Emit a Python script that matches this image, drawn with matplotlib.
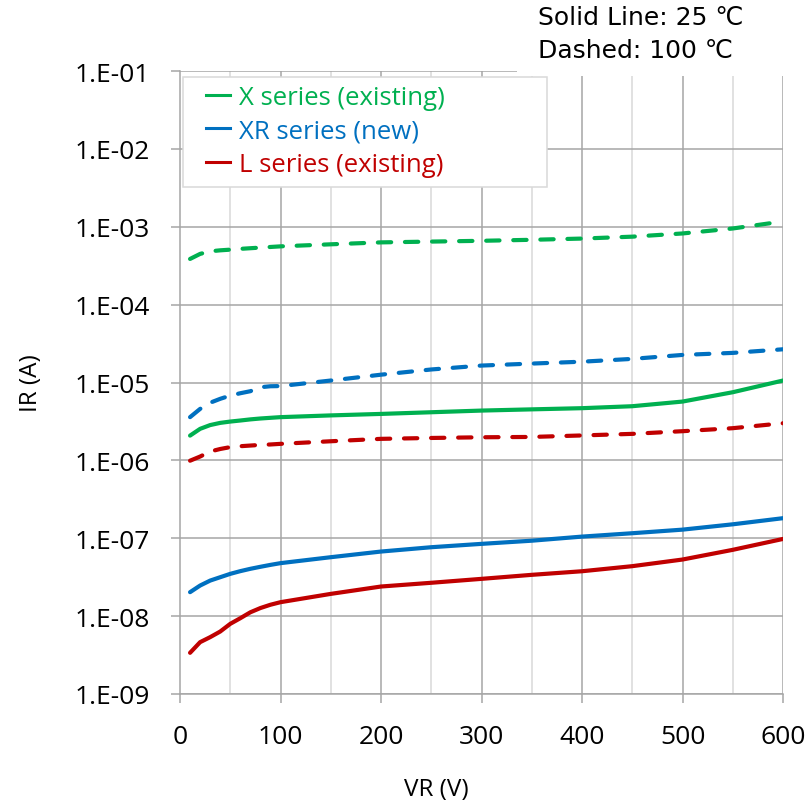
import matplotlib
matplotlib.use("Agg")
from matplotlib import pyplot as plt
from matplotlib.patches import Rectangle
from matplotlib.lines import Line2D

# reverse voltage (V)
vr = [10, 20, 30, 40, 50, 60, 70, 80, 90, 100, 150, 200, 250, 300,
      350, 400, 450, 500, 550, 600]

# 25 C (solid)
x_25 = [2.08e-6, 2.54e-6, 2.84e-6, 3.03e-6, 3.15e-6, 3.25e-6, 3.36e-6, 3.45e-6, 3.52e-6, 3.59e-6,
        3.78e-6, 3.95e-6, 4.15e-6, 4.36e-6, 4.52e-6, 4.68e-6, 4.96e-6, 5.69e-6, 7.5e-6, 1.06e-5]
xr_25 = [2.03e-8, 2.47e-8, 2.86e-8, 3.16e-8, 3.49e-8, 3.78e-8, 4.05e-8, 4.3e-8, 4.55e-8, 4.79e-8,
         5.71e-8, 6.75e-8, 7.67e-8, 8.47e-8, 9.3e-8, 1.05e-7, 1.16e-7, 1.29e-7, 1.51e-7, 1.81e-7]
l_25 = [3.38e-9, 4.63e-9, 5.37e-9, 6.34e-9, 7.96e-9, 9.4e-9, 1.12e-8, 1.27e-8, 1.4e-8, 1.51e-8,
        1.93e-8, 2.4e-8, 2.68e-8, 3.01e-8, 3.39e-8, 3.77e-8, 4.38e-8, 5.33e-8, 7.1e-8, 9.8e-8]

# 100 C (dashed)
x_100 = [3.86e-4, 4.48e-4, 4.84e-4, 4.98e-4, 5.08e-4, 5.2e-4, 5.3e-4, 5.4e-4, 5.5e-4, 5.6e-4,
         5.95e-4, 6.3e-4, 6.45e-4, 6.6e-4, 6.8e-4, 7.05e-4, 7.46e-4, 8.2e-4, 9.5e-4, 1.17e-3]
xr_100 = [3.59e-6, 4.58e-6, 5.5e-6, 6.17e-6, 6.79e-6, 7.28e-6, 7.73e-6, 8.7e-6, 8.95e-6, 9.0e-6,
          1.06e-5, 1.26e-5, 1.47e-5, 1.65e-5, 1.75e-5, 1.85e-5, 2.01e-5, 2.26e-5, 2.4e-5, 2.67e-5]
l_100 = [9.9e-7, 1.12e-6, 1.3e-6, 1.4e-6, 1.48e-6, 1.52e-6, 1.55e-6, 1.58e-6, 1.6e-6, 1.63e-6,
         1.76e-6, 1.89e-6, 1.94e-6, 1.98e-6, 2.0e-6, 2.09e-6, 2.19e-6, 2.37e-6, 2.59e-6, 3.0e-6]

names = ["X series (existing)", "XR series (new)", "L series (existing)"]
colors = ["#00B050", "#0070C0", "#C00000"]
solid = [x_25, xr_25, l_25]
dashed = [x_100, xr_100, l_100]

y_ticks = [1e-1, 1e-2, 1e-3, 1e-4, 1e-5, 1e-6, 1e-7, 1e-8, 1e-9]
y_labels = ["1.E-01", "1.E-02", "1.E-03", "1.E-04", "1.E-05",
            "1.E-06", "1.E-07", "1.E-08", "1.E-09"]
x_ticks = [0, 100, 200, 300, 400, 500, 600]

plt.rcParams['font.family'] = ['Open Sans', 'DejaVu Sans']

W, H = 809, 803
fig = plt.figure(figsize=(W/100, H/100), dpi=100)
ax = fig.add_axes([180/W, 1-695/H, 603/W, 623/H])
ax.set_yscale('log')
ax.set_xlim(0, 600)
ax.set_ylim(1e-9, 1e-1)

for xg in range(50, 600, 100):
    ax.axvline(xg, color='#D9D9D9', lw=1.1, zorder=1)
for xg in x_ticks[1:]:
    ax.axvline(xg, color='#A6A6A6', lw=1.1, zorder=1)
for yg in y_ticks:
    ax.axhline(yg, color='#A6A6A6', lw=1.1, zorder=1)

for c, ys, yd in zip(colors, solid, dashed):
    ax.plot(vr, ys, color=c, lw=3, solid_capstyle='round', zorder=3)
    ax.plot(vr, yd, color=c, lw=3, dashes=(3.2, 3.3), dash_capstyle='round', zorder=3)

ax.yaxis.set_major_locator(plt.FixedLocator(y_ticks))
ax.yaxis.set_minor_locator(plt.NullLocator())
ax.set_yticklabels(y_labels)
ax.set_xticks(x_ticks)
ax.tick_params(axis='both', direction='out', length=6.5, width=1.1,
               color='#A6A6A6', labelsize=19, pad=15)
for s in ['top', 'right']:
    ax.spines[s].set_visible(False)
for s in ['left', 'bottom']:
    ax.spines[s].set_color('#A6A6A6')
    ax.spines[s].set_linewidth(1.1)

ax.set_xlabel("VR (V)", fontsize=17.5, labelpad=20)
ax.xaxis.label.set_x((436 - 180) / 603)
ax.set_ylabel("IR (A)", fontsize=17.5, labelpad=23)

# legend box (Excel draws it wider than the text)
fig.patches.append(Rectangle((183/W, 1-188/H), 364/W, 110/H,
                             transform=fig.transFigure, facecolor='white',
                             edgecolor='#D9D9D9', lw=1.1, zorder=4))
handles = [Line2D([], [], color=c, lw=2.2) for c in colors]
leg = fig.legend(handles, names, loc='upper left',
                 bbox_to_anchor=(206/W, 1-86/H), bbox_transform=fig.transFigure,
                 fontsize=18.5, handlelength=0.93, handletextpad=0.35,
                 borderpad=0, labelspacing=0.33, frameon=False, borderaxespad=0)
leg.set_zorder(5)
for t, c in zip(leg.get_texts(), colors):
    t.set_color(c)

# white text box at the top right
fig.patches.append(Rectangle((517/W, 1-77/H), 292/W, 77/H,
                             transform=fig.transFigure, facecolor='white',
                             edgecolor='none', zorder=5))
fig.text(538/W, 1-18/H, "Solid Line: 25 ℃", fontsize=18, va='center',
         family=['DejaVu Sans', 'Noto Sans CJK JP'], zorder=6)
fig.text(538/W, 1-51/H, "Dashed: 100 ℃", fontsize=18, va='center',
         family=['DejaVu Sans', 'Noto Sans CJK JP'], zorder=6)

plt.savefig('out.png', dpi=100)
